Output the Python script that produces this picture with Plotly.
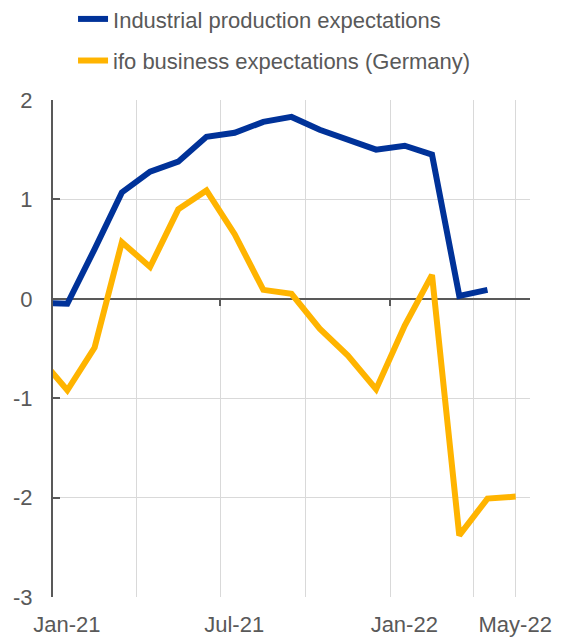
import plotly.graph_objects as go

months = ["2020-12-01", "2021-01-01", "2021-02-01", "2021-03-01", "2021-04-01", "2021-05-01",
          "2021-06-01", "2021-07-01", "2021-08-01", "2021-09-01", "2021-10-01", "2021-11-01",
          "2021-12-01", "2022-01-01", "2022-02-01", "2022-03-01", "2022-04-01", "2022-05-01"]

industrial = [-0.04, -0.05, 0.50, 1.07, 1.28, 1.38, 1.63, 1.67, 1.78, 1.83, 1.70, 1.60,
              1.50, 1.54, 1.45, 0.03, 0.09, None]
ifo = [-0.58, -0.92, -0.49, 0.57, 0.32, 0.90, 1.09, 0.65, 0.09, 0.05, -0.30, -0.57,
       -0.91, -0.27, 0.24, -2.38, -2.01, -1.99]

tick_label_pos = ["2021-01-16", "2021-07-16", "2022-01-16", "2022-05-16"]
tick_labels = ["Jan-21", "Jul-21", "Jan-22", "May-22"]
grid_pos = ["2021-04-01", "2021-07-01", "2021-10-01", "2022-01-01", "2022-04-01", "2022-05-16"]
zero_tick_pos = ["2021-07-01", "2022-01-01"]
y_vals = [-3, -2, -1, 0, 1, 2]
y_text = ["-3", "-2", "-1", "0", "1", "2"]

BLUE = "#003299"
YELLOW = "#FFB400"
GREY = "#595959"
GRID = "#D9D9D9"
FONT = "Liberation Sans, Arial, sans-serif"
FS = 22

fig = go.Figure()
fig.add_trace(go.Scatter(x=months, y=industrial, mode="lines", name="Industrial production expectations",
                         line=dict(color=BLUE, width=6), xperiod="M1", xperiodalignment="middle",
                         legendgroup="a"))
fig.add_trace(go.Scatter(x=months, y=ifo, mode="lines", name="ifo business expectations (Germany)",
                         line=dict(color=YELLOW, width=6), xperiod="M1", xperiodalignment="middle",
                         legendgroup="b", xaxis="x2", yaxis="y"))

xr = ["2021-01-01", "2022-06-01"]
fig.update_layout(
    width=554, height=629,
    margin=dict(l=45, r=32, t=92, b=40, autoexpand=False),
    paper_bgcolor="white", plot_bgcolor="white",
    font=dict(family=FONT, size=FS, color=GREY),
    showlegend=True,
    legend=dict(x=0.042, xanchor="left", y=1.205, yanchor="top",
                font=dict(size=FS, color=GREY), tracegroupgap=10, bgcolor="rgba(0,0,0,0)"),
    xaxis=dict(type="date", range=xr, tickmode="array", tickvals=tick_label_pos, ticktext=tick_labels,
               ticks="", showgrid=False, showline=False, zeroline=False, automargin=False,
               ticklabelstandoff=12, tickfont=dict(size=FS, color=GREY),
               minor=dict(tickmode="array", tickvals=grid_pos, showgrid=True, gridcolor=GRID,
                          gridwidth=1.3, ticks="")),
    xaxis2=dict(type="date", range=xr, overlaying="x", anchor="free", position=0.6,
                tickmode="array", tickvals=zero_tick_pos, ticks="outside", ticklen=6, tickwidth=2,
                tickcolor=GREY, showticklabels=False, showgrid=False, showline=False, zeroline=False,
                automargin=False),
    yaxis=dict(range=[-3, 2], tickmode="array", tickvals=y_vals, ticktext=y_text,
               ticks="inside", ticklen=7, tickwidth=2, tickcolor=GREY, automargin=False,
               showline=True, linecolor=GREY, linewidth=2,
               showgrid=True, gridcolor=GRID, gridwidth=1.3,
               zeroline=True, zerolinecolor=GREY, zerolinewidth=2,
               ticklabelstandoff=14, tickfont=dict(size=FS, color=GREY)),
)

fig.write_html("out.html")
